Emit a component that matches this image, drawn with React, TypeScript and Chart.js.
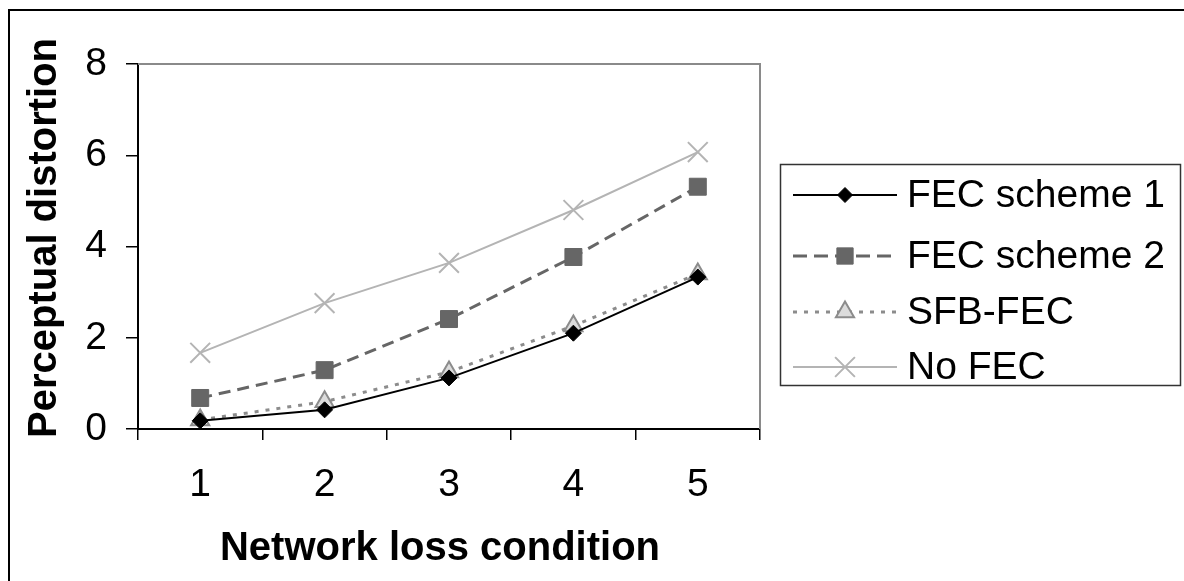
import React, { useEffect, useRef } from "react";
import { Chart, registerables } from "chart.js";
import { drawPoint } from "chart.js/helpers";

Chart.register(...registerables);

const categories = ["1", "2", "3", "4", "5"];
const fec1 = [0.18, 0.42, 1.12, 2.1, 3.33];
const fec2 = [0.68, 1.29, 2.41, 3.77, 5.31];
const sfb = [0.2, 0.6, 1.25, 2.26, 3.4];
const noFec = [1.67, 2.76, 3.64, 4.8, 6.07];
const seriesNames = ["FEC scheme 1", "FEC scheme 2", "SFB-FEC", "No FEC"];
const yTickValues = [0, 2, 4, 6, 8];
const xTitle = "Network loss condition";
const yTitle = "Perceptual distortion";

const FONT = "'Liberation Sans', Arial, sans-serif";

const plotFramePlugin = {
  id: "plotFrame",
  beforeDatasetsDraw(chart: any) {
    const { ctx, chartArea } = chart;
    ctx.save();
    ctx.strokeStyle = "#8a8a8a";
    ctx.lineWidth = 2;
    ctx.beginPath();
    ctx.moveTo(chartArea.left, chartArea.top);
    ctx.lineTo(chartArea.right, chartArea.top);
    ctx.lineTo(chartArea.right, chartArea.bottom);
    ctx.stroke();
    ctx.restore();
  },
};

const titlesPlugin = {
  id: "axisTitles",
  afterDraw(chart: any) {
    const { ctx } = chart;
    ctx.save();
    ctx.fillStyle = "#000";
    ctx.font = `bold 40px ${FONT}`;
    ctx.textAlign = "center";
    ctx.textBaseline = "middle";
    ctx.fillText(xTitle, 440, 549);
    ctx.translate(45, 238);
    ctx.rotate(-Math.PI / 2);
    ctx.fillText(yTitle, 0, 0);
    ctx.restore();
  },
};

const legendRows = [195, 256, 312, 367];

const legendPlugin = {
  id: "boxLegend",
  afterDraw(chart: any) {
    const { ctx } = chart;
    const bx = 780, by = 164, bw = 400, bh = 221;
    ctx.save();
    ctx.strokeStyle = "#333333";
    ctx.lineWidth = 1.5;
    ctx.strokeRect(bx + 0.5, by + 0.5, bw, bh);
    chart.data.datasets.forEach((ds: any, i: number) => {
      const y = legendRows[i];
      ctx.save();
      ctx.strokeStyle = ds.borderColor;
      ctx.lineWidth = ds.borderWidth;
      ctx.setLineDash(ds.legendDash || ds.borderDash || []);
      ctx.beginPath();
      ctx.moveTo(793, y);
      ctx.lineTo(897, y);
      ctx.stroke();
      ctx.restore();
      ctx.save();
      ctx.fillStyle = ds.pointBackgroundColor;
      ctx.strokeStyle = ds.pointBorderColor;
      ctx.lineWidth = ds.pointBorderWidth;
      drawPoint(ctx, { pointStyle: ds.pointStyle, radius: ds.legendRadius, rotation: 0, borderWidth: ds.pointBorderWidth } as any, 845, y);
      ctx.restore();
      ctx.fillStyle = "#000";
      ctx.font = `39px ${FONT}`;
      ctx.textBaseline = "middle";
      ctx.textAlign = "left";
      ctx.fillText(ds.label, 907, y + 1);
    });
    ctx.restore();
  },
};

export default function App() {
  const ref = useRef<HTMLCanvasElement | null>(null);
  useEffect(() => {
    if (!ref.current) return;
    const chart = new Chart(ref.current, {
      type: "line",
      data: {
        labels: categories,
        datasets: [
          {
            label: seriesNames[0],
            data: fec1,
            borderColor: "#000000",
            borderWidth: 2,
            pointStyle: "rectRot",
            pointRadius: 8,
            legendRadius: 7.5,
            pointBackgroundColor: "#000000",
            pointBorderColor: "#000000",
            pointBorderWidth: 1,
            tension: 0,
          } as any,
          {
            label: seriesNames[1],
            data: fec2,
            borderColor: "#666666",
            borderWidth: 3,
            borderDash: [12, 7],
            legendDash: [14, 7],
            pointStyle: "rect",
            pointRadius: 12,
            legendRadius: 11.5,
            pointBackgroundColor: "#666666",
            pointBorderColor: "#666666",
            pointBorderWidth: 1,
            tension: 0,
          } as any,
          {
            label: seriesNames[2],
            data: sfb,
            borderColor: "#8c8c8c",
            borderWidth: 3,
            borderDash: [4, 7],
            pointStyle: "triangle",
            pointRadius: 10.5,
            legendRadius: 10.5,
            pointBackgroundColor: "#dcdcdc",
            pointBorderColor: "#8c8c8c",
            pointBorderWidth: 2,
            tension: 0,
          } as any,
          {
            label: seriesNames[3],
            data: noFec,
            borderColor: "#b4b4b4",
            borderWidth: 2,
            pointStyle: "crossRot",
            pointRadius: 14,
            legendRadius: 14,
            pointBackgroundColor: "#b4b4b4",
            pointBorderColor: "#b4b4b4",
            pointBorderWidth: 2,
            tension: 0,
          } as any,
        ],
      },
      options: {
        animation: false,
        responsive: false,
        maintainAspectRatio: false,
        layout: { padding: { left: 16, right: 424, top: 64, bottom: 9 } },
        plugins: { legend: { display: false }, tooltip: { enabled: false } },
        scales: {
          x: {
            type: "category",
            offset: true,
            grid: {
              offset: true,
              drawOnChartArea: false,
              drawTicks: true,
              tickLength: 11,
              color: "#000000",
              lineWidth: 1.5,
            },
            border: { display: true, color: "#000000", width: 2 },
            ticks: {
              color: "#000000",
              font: { family: FONT, size: 39 },
              padding: 22,
              maxRotation: 0,
            },
            title: { display: false },
            afterFit(scale: any) {
              scale.height = 581 - 429 - 9;
            },
          },
          y: {
            min: 0,
            max: 8,
            afterBuildTicks(scale: any) {
              scale.ticks = yTickValues.map((v) => ({ value: v }));
            },
            grid: {
              drawOnChartArea: false,
              drawTicks: true,
              tickLength: 12,
              color: "#000000",
              lineWidth: 1.5,
            },
            border: { display: true, color: "#000000", width: 2 },
            ticks: {
              color: "#000000",
              font: { family: FONT, size: 39 },
              padding: 19,
            },
            title: { display: false },
            afterFit(scale: any) {
              scale.width = 138 - 16;
            },
          },
        },
      } as any,
      plugins: [plotFramePlugin, legendPlugin, titlesPlugin],
    });
    return () => chart.destroy();
  }, []);

  return (
    <div style={{ position: "fixed", left: 0, top: 0, width: 1184, height: 581, overflow: "hidden", background: "#fff" }}>
      <canvas ref={ref} width={1184} height={581} style={{ position: "absolute", left: 0, top: 0, width: 1184, height: 581 }} />
      <div
        style={{
          position: "absolute",
          left: 8,
          top: 9,
          width: 1400,
          height: 800,
          borderTop: "2px solid #000",
          borderLeft: "2px solid #000",
          pointerEvents: "none",
        }}
      />
    </div>
  );
}
